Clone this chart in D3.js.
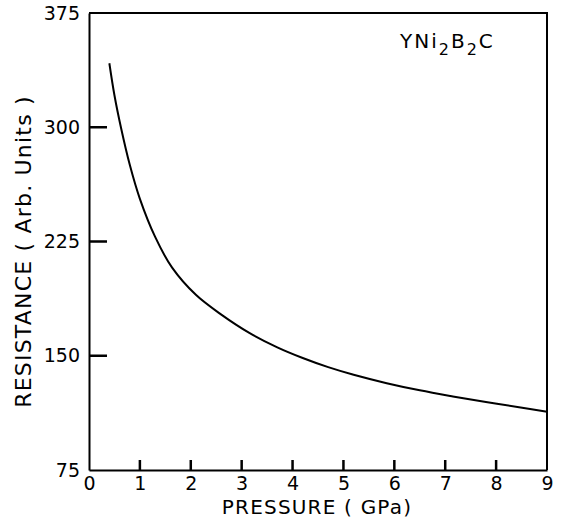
<!DOCTYPE html>
<html>
<head>
<meta charset="utf-8">
<script src="https://cdn.jsdelivr.net/npm/d3@7"></script>
<style>
  html, body { margin: 0; padding: 0; background: #fff; }
  svg { display: block; }
  text { font-family: "DejaVu Sans", sans-serif; fill: #000; }
</style>
</head>
<body>
<svg id="chart" width="561" height="520"></svg>
<script>
// ---- data ----
const pressure   = [0.4, 0.5, 0.63, 0.8, 1.0, 1.3, 1.63, 2.1, 2.6, 3.15, 3.7, 4.2, 4.7, 5.2, 5.85, 6.5, 7.15, 7.8, 8.45, 9.0];
const resistance = [342, 321, 299.5, 275.5, 253, 228, 208, 190, 177, 165, 155.5, 148.5, 142.5, 137.5, 132, 127.3, 123.3, 119.6, 116.2, 113.3];
const xTicks = [0, 1, 2, 3, 4, 5, 6, 7, 8, 9];
const yTicks = [75, 150, 225, 300, 375];
const xTitle = "PRESSURE ( GPa)";
const yTitle = "RESISTANCE ( Arb. Units )";

(function () {
const svg = d3.select("#chart");
const mLeft = 89, mRight = 547, mTop = 13, mBottom = 470;

const x = d3.scaleLinear().domain([0, 9]).range([mLeft, mRight]);
const y = d3.scaleLinear().domain([75, 375]).range([mBottom, mTop]);

// frame (top and right)
svg.append("path")
  .attr("d", `M${mLeft},${mTop}H${mRight}V${mBottom}`)
  .attr("fill", "none").attr("stroke", "#000").attr("stroke-width", 2);

// x axis
const gx = svg.append("g").attr("transform", `translate(0,${mBottom})`)
  .call(d3.axisBottom(x).tickValues(xTicks).tickFormat(d3.format("d"))
    .tickSize(0).tickPadding(7));
gx.select(".domain").attr("stroke", "#000").attr("stroke-width", 2);
gx.selectAll("text").attr("font-size", 19).style("font-family", "DejaVu Sans");

// y axis
const gy = svg.append("g").attr("transform", `translate(${mLeft},0)`)
  .call(d3.axisLeft(y).tickValues(yTicks).tickFormat(d3.format("d"))
    .tickSize(0).tickPadding(9));
gy.select(".domain").attr("stroke", "#000").attr("stroke-width", 2);
gy.selectAll("text").attr("font-size", 19).style("font-family", "DejaVu Sans");

// inward ticks drawn as one path
let tickD = "";
xTicks.slice(1, -1).forEach(d => { tickD += `M${x(d)},${mBottom}V${mBottom - 10}`; });
yTicks.slice(1, -1).forEach(d => { tickD += `M${mLeft},${y(d)}H${mLeft + 18}`; });
svg.append("path").attr("d", tickD)
  .attr("fill", "none").attr("stroke", "#000").attr("stroke-width", 2.5);

// axis titles
svg.append("text")
  .attr("x", (x(0) + x(9)) / 2 - 1).attr("y", 514)
  .attr("text-anchor", "middle").attr("font-size", 20)
  .attr("letter-spacing", 1.2)
  .text(xTitle);

svg.append("text")
  .attr("transform", `translate(31,${(mTop + mBottom) / 2 + 10}) rotate(-90)`)
  .attr("text-anchor", "middle").attr("font-size", 22)
  .attr("letter-spacing", 1.2)
  .text(yTitle);

// annotation
const ann = svg.append("text").attr("x", 400).attr("y", 48).attr("font-size", 20).attr("letter-spacing", 2);
ann.append("tspan").text("YNi");
ann.append("tspan").attr("font-size", 16).attr("dy", 7).text("2");
ann.append("tspan").attr("dy", -7).text("B");
ann.append("tspan").attr("font-size", 16).attr("dy", 7).text("2");
ann.append("tspan").attr("dy", -7).text("C");

// curve
const pts = pressure.map((p, i) => [p, resistance[i]]);
svg.append("path")
  .datum(pts)
  .attr("fill", "none").attr("stroke", "#000").attr("stroke-width", 2)
  .attr("d", d3.line().x(d => x(d[0])).y(d => y(d[1])).curve(d3.curveCatmullRom.alpha(0.5)));
})();
</script>
</body>
</html>
